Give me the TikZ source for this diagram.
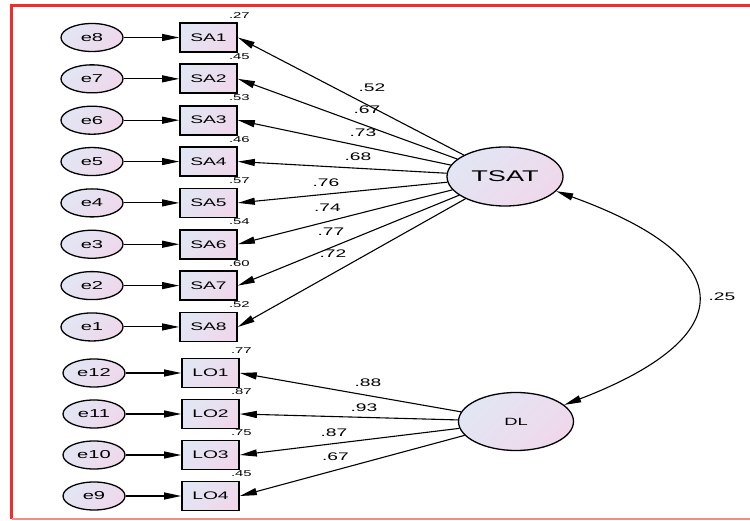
\documentclass[tikz,border=0pt]{standalone}
\usepackage{fontspec}
\setmainfont[FakeStretch=1.75]{Liberation Sans}
\usetikzlibrary{shapes.geometric,arrows.meta}
\definecolor{gA}{HTML}{E2E6F4}
\definecolor{gB}{HTML}{EFD8EB}
\definecolor{frameRed}{HTML}{F52A2A}
\definecolor{framePink}{HTML}{F58A8A}
\tikzset{
  grad/.style={top color=gA, bottom color=gB, shading angle=45},
  err/.style={ellipse, draw, line width=1.3pt, minimum width=62pt, minimum height=28pt, inner sep=0pt, grad, font=\fontsize{11.5}{11.5}\selectfont},
  obs/.style={rectangle, draw, line width=1.7pt, minimum width=57pt, minimum height=29pt, inner sep=0pt, grad, font=\fontsize{11}{11}\selectfont},
  lat/.style={ellipse, draw, line width=1.3pt, inner sep=0pt, grad},
  arr/.style={-{Triangle[length=17pt,width=7pt]}, line width=1.1pt},
  wlab/.style={font=\fontsize{11}{11}\selectfont, inner sep=0pt},
  rlab/.style={font=\fontsize{8.5}{8.5}\selectfont, inner sep=0pt, anchor=center}
}
\begin{document}
\begin{tikzpicture}[x=1pt,y=-1pt]
\useasboundingbox (0,0) rectangle (750,521);
% frame
\draw[frameRed, line width=2.5pt] (750,5.3) -- (11.5,5.3) -- (11.5,519);
\draw[framePink, line width=1.5pt] (11.5,519) -- (750,519);
% latent
\node[lat, minimum width=116pt, minimum height=59pt, font=\fontsize{15.5}{15.5}\selectfont] (TSAT) at (505,176.5) {TSAT};
\node[lat, minimum width=115pt, minimum height=58pt, font=\fontsize{10.5}{10.5}\selectfont] (DL) at (516,421.5) {DL};
% SA items
\foreach \i/\r in {1/.27,2/.45,3/.53,4/.46,5/.57,6/.54,7/.60,8/.52}{
  \pgfmathsetmacro{\yy}{37.5+41.35*(\i-1)}
  \pgfmathtruncatemacro{\ee}{9-\i}
  \node[obs] (SA\i) at (208.5,\yy) {SA\i};
  \node[err] (e\ee) at (92,\yy) {e\ee};
  \node[rlab] (r\i) at ([xshift=1.5pt,yshift=7pt]SA\i.north east) {\r};
  \draw[arr] (e\ee) -- (SA\i);
  \draw[arr] (TSAT) -- (SA\i.east);
}
% LO items
\foreach \i/\r/\yy in {1/.77/373,2/.87/414,3/.75/455,4/.45/496}{
  \pgfmathtruncatemacro{\ee}{13-\i}
  \node[obs] (LO\i) at (210.5,\yy) {LO\i};
  \node[err] (e\ee) at (94,\yy) {e\ee};
  \node[rlab] (q\i) at ([xshift=1.5pt,yshift=7pt]LO\i.north east) {\r};
  \draw[arr] (e\ee) -- (LO\i);
  \draw[arr] (DL) -- (LO\i.east);
}
% loading labels
\foreach \n/\t/\x/\y in {w1/.52/372/88, w2/.67/367/110, w3/.73/363/133, w4/.68/358/157,
  w5/.76/326/183, w6/.74/327.5/208, w7/.77/331/232, w8/.72/333/254,
  v1/.88/368/383, v2/.93/364/408, v3/.87/334/433, v4/.67/335.5/457}{
  \node[wlab] (\n) at (\x,\y) {\t};
}
% covariance
\draw[{Triangle[length=17pt,width=7pt]}-{Triangle[length=17pt,width=7pt]}, line width=1.1pt]
  (TSAT.-16) .. controls +(188,68) and +(175,-67) .. (DL.19);
\node[wlab] (cov) at (722,297) {.25};
\end{tikzpicture}
\end{document}
